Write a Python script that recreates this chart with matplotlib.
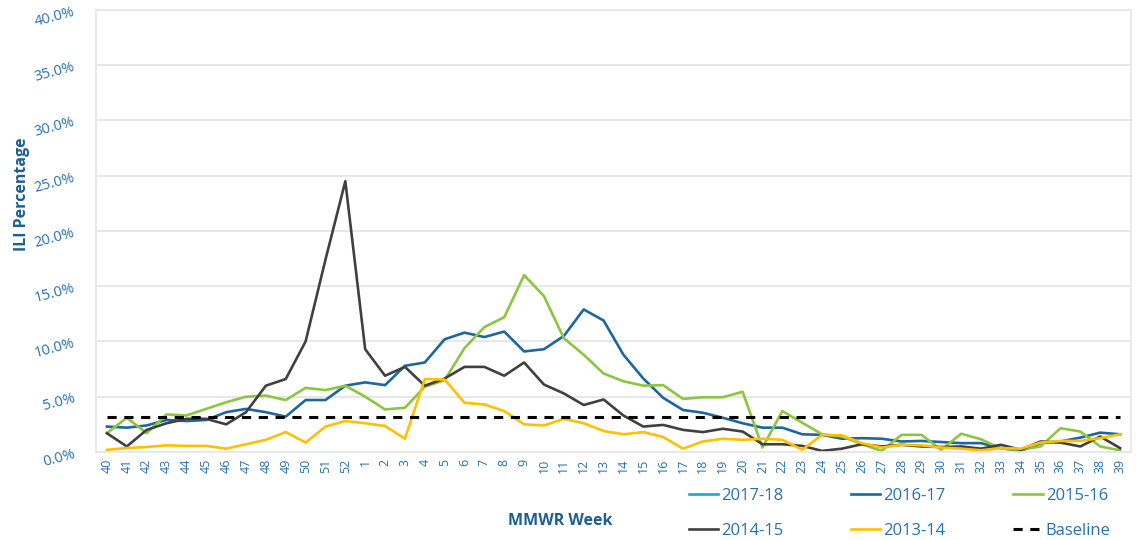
import matplotlib
matplotlib.use("Agg")
import matplotlib.pyplot as plt
from matplotlib.ticker import FuncFormatter

plt.rcParams['font.family'] = ['Open Sans', 'DejaVu Sans']

# MMWR weeks 40..52 then 1..39
weeks = [str(w) for w in list(range(40, 53)) + list(range(1, 40))]

s2017_18 = []  # no data yet
s2016_17 = [2.3, 2.2, 2.4, 2.9, 2.8, 2.9, 3.6, 3.9, 3.6, 3.2, 4.7, 4.7, 6.0,
            6.3, 6.05, 7.8, 8.1, 10.2, 10.8, 10.4, 10.9, 9.1, 9.3, 10.5, 12.9, 11.9,
            8.8, 6.65, 4.9, 3.8, 3.55, 3.1, 2.6, 2.2, 2.2, 1.6, 1.55, 1.2, 1.25,
            1.2, 0.95, 1.0, 0.9, 0.8, 0.8, 0.35, 0.1, 0.8, 0.95, 1.3, 1.75, 1.6]
s2015_16 = [1.7, 3.1, 1.7, 3.4, 3.3, 3.9, 4.5, 5.0, 5.1, 4.7, 5.8, 5.6, 6.0,
            5.0, 3.85, 4.0, 5.9, 6.5, 9.4, 11.3, 12.2, 16.0, 14.1, 10.3, 8.8, 7.1,
            6.4, 6.0, 6.05, 4.8, 4.95, 4.95, 5.45, 0.4, 3.7, 2.65, 1.6, 1.4, 0.7,
            0.1, 1.55, 1.55, 0.2, 1.65, 1.15, 0.3, 0.2, 0.5, 2.15, 1.85, 0.5, 0.15]
s2014_15 = [1.7, 0.5, 2.0, 2.6, 3.0, 3.0, 2.5, 3.6, 6.0, 6.6, 10.0, 17.4, 24.5,
            9.3, 6.9, 7.7, 6.0, 6.65, 7.7, 7.7, 6.9, 8.1, 6.1, 5.3, 4.25, 4.75,
            3.3, 2.3, 2.45, 2.0, 1.8, 2.1, 1.85, 0.7, 0.7, 0.55, 0.1, 0.3, 0.7,
            0.5, 0.65, 0.5, 0.45, 0.5, 0.3, 0.65, 0.2, 0.95, 0.85, 0.5, 1.4, 0.35]
s2013_14 = [0.2, 0.35, 0.45, 0.6, 0.55, 0.55, 0.3, 0.7, 1.1, 1.8, 0.85, 2.3, 2.8,
            2.6, 2.35, 1.2, 6.6, 6.55, 4.45, 4.3, 3.7, 2.5, 2.4, 3.0, 2.6, 1.9,
            1.6, 1.8, 1.35, 0.3, 0.95, 1.2, 1.1, 1.2, 1.1, 0.2, 1.55, 1.5, 0.8,
            0.4, 0.65, 0.6, 0.4, 0.3, 0.15, 0.35, 0.3, 0.85, 1.0, 1.0, 1.25, 1.6]
baseline = 3.2

blue_txt = "#2771b0"
x = list(range(len(weeks)))

fig = plt.figure(figsize=(11.43, 5.40), dpi=100)
ax = fig.add_axes([0.084, 0.163, 0.9055, 0.8185])

ax.plot(x[:len(s2017_18)], s2017_18, color="#1aa6d9", lw=1.9, label="2017-18")
ax.plot(x, s2016_17, color="#1c679e", lw=1.9, label="2016-17")
ax.plot(x, s2015_16, color="#8cc63f", lw=1.9, label="2015-16")
ax.plot(x, s2014_15, color="#404040", lw=1.9, label="2014-15")
ax.plot(x, s2013_14, color="#ffc000", lw=1.9, label="2013-14")
ax.plot([x[0], x[-1]], [baseline, baseline], color="black", lw=2.2,
        ls=(0, (3, 2.5)), label="Baseline")

ax.set_xlim(-0.55, len(weeks) - 0.45)
ax.set_ylim(0, 40)
ax.set_yticks(range(0, 41, 5))
ax.yaxis.set_major_formatter(FuncFormatter(lambda v, p: "%.1f%%" % v))
ax.set_xticks(x)
ax.set_xticklabels(weeks, rotation=90)
ax.tick_params(axis="x", length=0, labelsize=9, colors=blue_txt, pad=5)
ax.tick_params(axis="y", length=0, labelsize=10.5, colors=blue_txt, pad=14,
               labelrotation=15)
ax.grid(axis="y", color="#e3e3e3", lw=1.2)
ax.set_axisbelow(True)
for sp in ax.spines.values():
    sp.set_color("#e6e6e6")
    sp.set_linewidth(1.2)

fig.text(0.019, 0.64, "ILI Percentage", fontsize=11.5, fontweight="bold",
         color="#1a5f96", rotation=90, ha="center", va="center")
fig.text(0.49, 0.036, "MMWR Week", fontsize=11.5, fontweight="bold", color="#1a5f96",
         ha="center", va="center")

h, l = ax.get_legend_handles_labels()
order = [0, 3, 1, 4, 2, 5]
leg = fig.legend([h[i] for i in order], [l[i] for i in order], ncol=3,
                 loc="lower left", bbox_to_anchor=(0.591, -0.023), frameon=False,
                 fontsize=12, handlelength=1.75, handletextpad=0.2,
                 columnspacing=4.05, labelspacing=1.15, borderpad=0.3)
for t in leg.get_texts():
    t.set_color(blue_txt)

fig.savefig("out.png", dpi=100)
